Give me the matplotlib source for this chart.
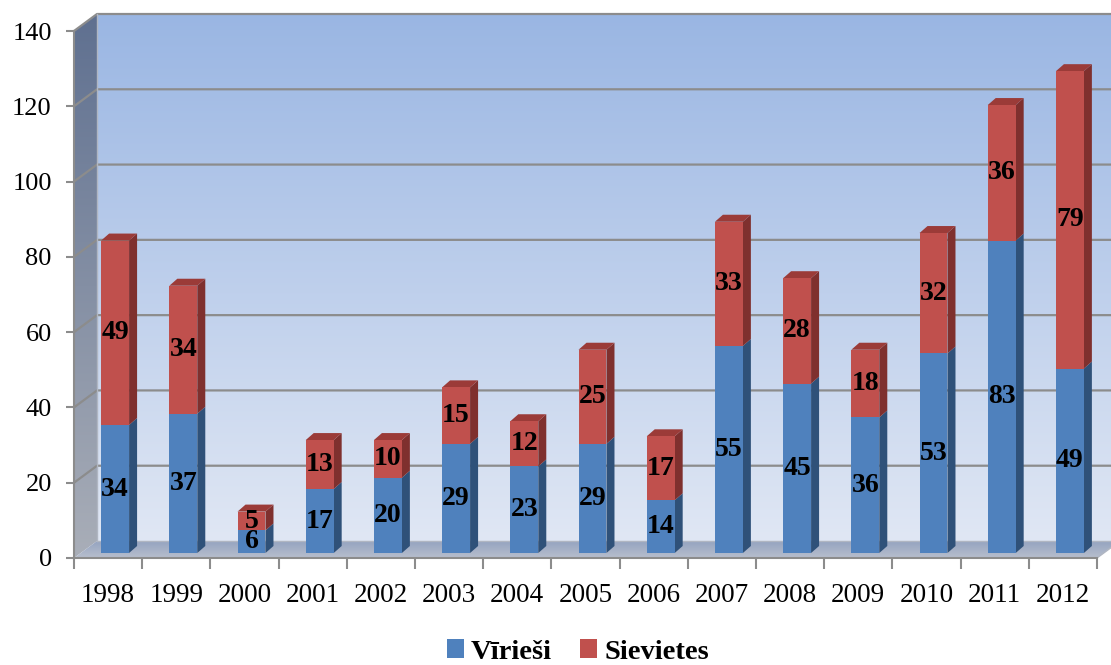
import numpy as np
import matplotlib
matplotlib.use('Agg')
import matplotlib.pyplot as plt
from matplotlib.patches import Polygon, Patch
from matplotlib.colors import LinearSegmentedColormap
from matplotlib.transforms import IdentityTransform, offset_copy

# ---- data ----
years = [str(y) for y in range(1998, 2013)]
virieši = [34, 37, 6, 17, 20, 29, 23, 29, 14, 55, 45, 36, 53, 83, 49]
sievietes = [49, 34, 5, 13, 10, 15, 12, 25, 17, 33, 28, 18, 32, 36, 79]
series_names = ['Vīrieši', 'Sievietes']
yticks = [0, 20, 40, 60, 80, 100, 120, 140]

# ---- style ----
SERIF = 'Liberation Serif'
BLUE, BLUE_SIDE, BLUE_TOP = '#4f81bd', '#2f5179', '#3a6398'
RED, RED_SIDE, RED_TOP = '#c0504d', '#7f302e', '#9b3b38'
GRID = '#8c8c8c'

W, H = 1111, 665
fig = plt.figure(figsize=(W / 100, H / 100), dpi=100)
bg = fig.add_axes([0, 0, 1, 1], zorder=0)
ax = fig.add_axes([74 / W, 107 / H, 1023 / W, 527 / H], zorder=1)
ax.set_xlim(-0.5, len(years) - 0.5)
ax.set_ylim(0, 140)
ax.patch.set_visible(False)

WALL = (23, 17)
FRONT = (7, 5)
BACK = (15, 12)
BW = 0.41
x0, x1 = -0.5, len(years) - 0.5


def D(x, y, off=(0, 0)):
    px, py = ax.transData.transform((x, y))
    return (px + off[0], py + off[1])


def grad_poly(verts, c_top, c_bot, z):
    poly = Polygon(verts, closed=True, facecolor='none', edgecolor='none')
    bg.add_patch(poly)
    xs = [v[0] for v in verts]
    ys = [v[1] for v in verts]
    cmap = LinearSegmentedColormap.from_list('g', [c_bot, c_top])
    g = np.linspace(0, 1, 256).reshape(-1, 1)
    im = bg.imshow(g, extent=[min(xs), max(xs), min(ys), max(ys)], origin='lower',
                   aspect='auto', cmap=cmap, interpolation='bicubic', zorder=z)
    im.set_clip_path(poly)


# walls & floor
grad_poly([D(x0, 0, WALL), D(x1, 0, WALL), D(x1, 140, WALL), D(x0, 140, WALL)],
          '#9ab6e3', '#e0e7f4', 1)
grad_poly([D(x0, 0), D(x0, 0, WALL), D(x0, 140, WALL), D(x0, 140)],
          '#5f7090', '#a9aeb8', 1)
grad_poly([D(x0, 0), D(x1, 0), D(x1, 0, WALL), D(x0, 0, WALL)],
          '#94a3c0', '#b8bfcd', 1)

for v in yticks[1:]:
    p0, p1, p2 = D(x0, v), D(x0, v, WALL), D(x1, v, WALL)
    bg.plot([p0[0], p1[0], p2[0]], [p0[1], p1[1], p2[1]], color=GRID, lw=1.6, zorder=2)
for pts in ([D(x0, 0, WALL), D(x1, 0, WALL)], [D(x1, 0), D(x1, 0, WALL)],
            [D(x0, 0, WALL), D(x0, 140, WALL)]):
    bg.plot([p[0] for p in pts], [p[1] for p in pts], color='#b0b6c2', lw=1.0, zorder=2)
bg.set_xlim(0, W)
bg.set_ylim(0, H)
bg.axis('off')

# bars
tr_front = offset_copy(ax.transData, fig=fig, x=FRONT[0], y=FRONT[1], units='dots')
ident = IdentityTransform()
series = [(virieši, BLUE, BLUE_SIDE, BLUE_TOP), (sievietes, RED, RED_SIDE, RED_TOP)]
for i in range(len(years)):
    bottom = 0
    for k, (vals, fc, sc, tc) in enumerate(series):
        v = vals[i]
        xl, xr = i - BW / 2, i + BW / 2
        side = [D(xr, bottom, FRONT), D(xr, bottom + v, FRONT),
                D(xr, bottom + v, BACK), D(xr, bottom, BACK)]
        ax.add_patch(Polygon(side, closed=True, facecolor=sc, edgecolor='none',
                             transform=ident, clip_on=False, zorder=2))
        if k == len(series) - 1:
            top = [D(xl, bottom + v, FRONT), D(xr, bottom + v, FRONT),
                   D(xr, bottom + v, BACK), D(xl, bottom + v, BACK)]
            ax.add_patch(Polygon(top, closed=True, facecolor=tc, edgecolor='none',
                                 transform=ident, clip_on=False, zorder=2))
        ax.bar(i, v, bottom=bottom, width=BW, color=fc, transform=tr_front,
               clip_on=False, zorder=3)
        ax.text(i, bottom + v / 2, str(v), transform=tr_front, ha='center',
                va='center', fontsize=20, fontweight='bold', family=SERIF,
                color='black', zorder=4)
        bottom += v

# axes
for s in ('top', 'right'):
    ax.spines[s].set_visible(False)
for s in ('left', 'bottom'):
    ax.spines[s].set_color(GRID)
    ax.spines[s].set_linewidth(1.5)
ax.set_yticks(yticks)
ax.set_yticklabels([str(t) for t in yticks], family=SERIF, fontsize=19)
ax.set_xticks(range(len(years)))
ax.set_xticklabels(years, family=SERIF, fontsize=19.5)
ax.set_xticks(np.arange(-0.5, len(years), 1), minor=True)
ax.tick_params(axis='y', length=6, width=1.5, color=GRID, pad=10)
ax.tick_params(axis='x', which='major', length=0, pad=18)
ax.tick_params(axis='x', which='minor', length=8, width=1.5, color=GRID)

fig.legend(handles=[Patch(facecolor=BLUE), Patch(facecolor=RED)], labels=series_names,
           loc='center', bbox_to_anchor=(578 / W, 13 / H), ncol=2, frameon=False,
           prop=dict(family=SERIF, weight='bold', size=20.5), handlelength=0.6,
           handleheight=0.6, handletextpad=0.25, columnspacing=1.0)

fig.savefig('out.png', dpi=100)
